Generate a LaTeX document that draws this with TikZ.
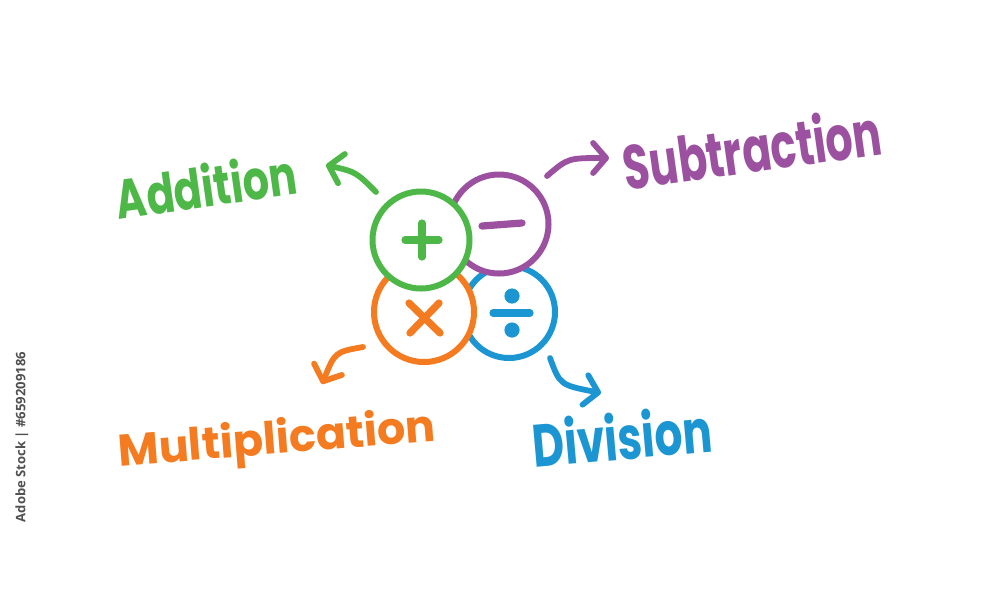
\documentclass[tikz,border=0pt]{standalone}
\usepackage{fontspec}
\setmainfont{Poppins}
\newfontfamily\wmfont{Open Sans}
\usetikzlibrary{arrows.meta}
\definecolor{cgreen}{HTML}{4DB848}
\definecolor{cpurple}{HTML}{9B51A0}
\definecolor{corange}{HTML}{F47B20}
\definecolor{cblue}{HTML}{1B96D2}
\definecolor{wmgray}{HTML}{505050}
\tikzset{
  ring/.style={circle, line width=3pt, fill=white, inner sep=0pt},
  sym/.style={line width=3.6pt, line cap=round},
  arr/.style={line width=2.9pt, line cap=round, -{Straight Barb[round, length=6.5pt, width=15pt]}},
  lbl/.style={inner sep=0pt, font=\bfseries},
}
\begin{document}
\begin{tikzpicture}[x=0.5pt, y=-0.5pt]
\useasboundingbox (0,0) rectangle (1000,591);
\fill[white] (0,0) rectangle (1000,591);

% circles (drawn back to front)
\node[ring, draw=cblue, minimum size=46pt] (cD) at (509,312) {};
\node[ring, draw=cpurple, minimum size=49.5pt] (cS) at (499,224) {};
\node[ring, draw=corange, minimum size=50pt] (cM) at (424,312) {};
\node[ring, draw=cgreen, minimum size=48.5pt] (cA) at (421,240) {};

% symbols
\draw[sym, cgreen] (405,240) -- (439,240) (422,223) -- (422,257);
\draw[sym, cpurple] (482,226) -- (522,223);
\draw[sym, corange] (409,303) -- (440,333) (439,303) -- (410,333);
\draw[sym, cblue] (493,313) -- (530,313);
\fill[cblue] (512,296) circle (3.8pt) (512,330) circle (3.8pt);

% arrow end points
\coordinate (aT) at (376,192); \coordinate (aH) at (326,165);
\coordinate (sT) at (547,176); \coordinate (sH) at (609,158);
\coordinate (mT) at (363,347); \coordinate (mH) at (322,384);
\coordinate (dT) at (550,358); \coordinate (dH) at (601,393);

\draw[arr, cgreen] (aT) .. controls (356,172) .. (aH);
\draw[arr, cpurple] (sT) .. controls (568,158) .. (sH);
\draw[arr, corange] (mT) .. controls (335,352) .. (mH);
\draw[arr, cblue] (dT) .. controls (560,385) .. (dH);

% labels
\node[lbl, text=cgreen, rotate=8] (tA) at (206,185) {\resizebox{91pt}{22pt}{Addition}};
\node[lbl, text=cpurple, rotate=8] (tS) at (752,148) {\resizebox{130pt}{25pt}{Subtraction}};
\node[lbl, text=corange, rotate=4.5] (tM) at (277,442) {\resizebox{159pt}{!}{Multiplication}};
\node[lbl, text=cblue, rotate=5] (tD) at (622,436) {\resizebox{90pt}{24pt}{Division}};

% stock watermark id
\node[text=wmgray, rotate=90, inner sep=0pt] (wm) at (22,437) {\resizebox{85pt}{!}{\wmfont\bfseries Adobe Stock | \#659209186}};
\end{tikzpicture}
\end{document}
